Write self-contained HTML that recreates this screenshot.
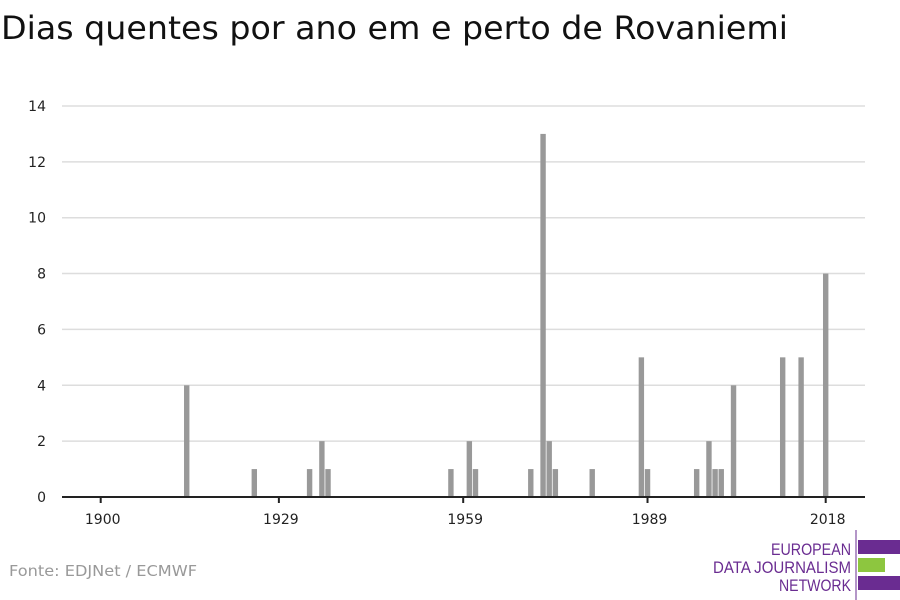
<!DOCTYPE html>
<html><head><meta charset="utf-8"><style>
body{margin:0;background:#fff;font-family:"DejaVu Sans","Liberation Sans",sans-serif;}
#wrap{position:relative;width:900px;height:600px;overflow:hidden;}
</style></head><body>
<div id="wrap">
<svg width="900" height="600" id="chart" font-family="DejaVu Sans, Liberation Sans, sans-serif">
<text x="1" y="39" font-size="32" fill="#111" textLength="787" lengthAdjust="spacingAndGlyphs">Dias quentes por ano em e perto de Rovaniemi</text>
<g id="grid"></g><g id="bars"></g><g id="xaxis"></g>
<text x="9" y="576" font-size="15" fill="#999" textLength="188" lengthAdjust="spacingAndGlyphs">Fonte: EDJNet / ECMWF</text>
<g font-family="Liberation Sans, sans-serif">
<line x1="856" y1="530" x2="856" y2="600" stroke="#6a2c91" stroke-width="1"/>
<text x="851" y="555" font-size="17" fill="#6a2c91" text-anchor="end" textLength="80" lengthAdjust="spacingAndGlyphs">EUROPEAN</text>
<text x="851" y="573" font-size="17" fill="#6a2c91" text-anchor="end" textLength="138" lengthAdjust="spacingAndGlyphs">DATA JOURNALISM</text>
<text x="851" y="591" font-size="17" fill="#6a2c91" text-anchor="end" textLength="72" lengthAdjust="spacingAndGlyphs">NETWORK</text>
<rect x="858" y="540" width="42" height="14" fill="#6a2c91"/>
<rect x="858" y="558" width="27" height="14" fill="#8dc63f"/>
<rect x="858" y="576" width="42" height="14" fill="#6a2c91"/>
</g>
</svg>
</div>
<script>
const years=[1914,1925,1934,1936,1937,1957,1960,1961,1970,1972,1973,1974,1980,1988,1989,1997,1999,2000,2001,2003,2011,2014,2018];
const values=[4,1,1,2,1,1,2,1,1,13,2,1,1,5,1,1,2,1,1,4,5,5,8];
const yTicks=[0,2,4,6,8,10,12,14];
const xTicks=[1900,1929,1959,1989,2018];
const NS="http://www.w3.org/2000/svg";
const x=y=>100.7+(y-1900)*6.144;
const yS=v=>497-v*27.93;
function mk(t,a,p){const e=document.createElementNS(NS,t);for(const k in a)e.setAttribute(k,a[k]);p.appendChild(e);return e;}
const grid=document.getElementById('grid'),bars=document.getElementById('bars'),xa=document.getElementById('xaxis');
yTicks.forEach(v=>{
 if(v>0){const l=mk('line',{x1:62,x2:865,y1:yS(v),y2:yS(v),stroke:'#ddd','stroke-width':1.5},grid);
 
 }
 const t=mk('text',{x:46,y:yS(v)+5,'font-size':14,fill:'#222','text-anchor':'end'},grid);t.textContent=v;
 
 
});
years.forEach((yr,i)=>{
 const r=mk('rect',{x:x(yr)-2.7,y:yS(values[i]),width:5.4,height:497-yS(values[i]),fill:'#999'},bars);
 
 
});
const ax=mk('line',{x1:62,x2:865,y1:497,y2:497,stroke:'#222','stroke-width':2},xa);


xTicks.forEach(yr=>{
 mk('line',{x1:x(yr),x2:x(yr),y1:497,y2:503,stroke:'#222','stroke-width':2},xa);
 const t=mk('text',{x:x(yr)+2,y:524,'font-size':14,fill:'#222','text-anchor':'middle'},xa);t.textContent=yr;
 
 
});
</script>
</body></html>
